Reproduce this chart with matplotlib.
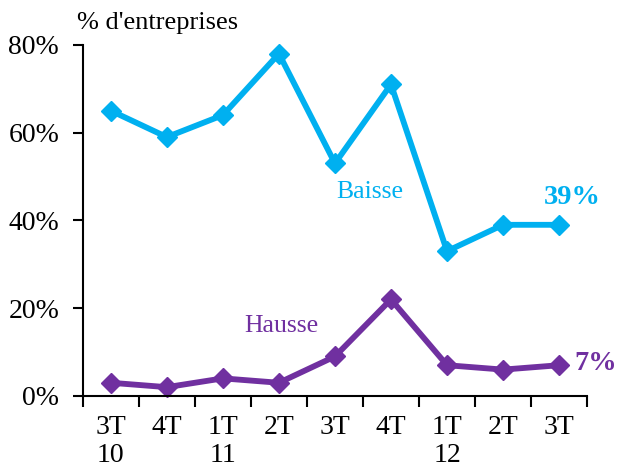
import numpy as np
import matplotlib.pyplot as plt
from matplotlib.ticker import FixedLocator, FuncFormatter

# data
quarters = ["3T\n10", "4T", "1T\n11", "2T", "3T", "4T", "1T\n12", "2T", "3T"]
baisse = [65, 59, 64, 78, 53, 71, 33, 39, 39]
hausse = [3, 2, 4, 3, 9, 22, 7, 6, 7]

blue = '#00B0F0'
purple = '#7030A0'

plt.rcParams['font.family'] = ['Liberation Serif', 'DejaVu Serif']

fig = plt.figure(figsize=(6.18, 4.68), dpi=100)
ax = fig.add_axes([0.134, 0.154, 0.816, 0.75])

x = np.arange(len(quarters))
ax.plot(x, baisse, color=blue, lw=4.2, marker='D', ms=10.5, clip_on=False)
ax.plot(x, hausse, color=purple, lw=4.2, marker='D', ms=10.5, clip_on=False)

ax.set_xlim(-0.5, len(quarters) - 0.5)
ax.set_ylim(0, 80)

# y axis
ax.set_yticks([0, 20, 40, 60, 80])
ax.yaxis.set_major_formatter(FuncFormatter(lambda v, p: '{:.0f}%'.format(v)))
ax.tick_params(axis='y', labelsize=20, length=7, width=1.5, direction='out', pad=10)

# x axis: labels at centres, tick marks at boundaries
ax.set_xticks(x)
ax.set_xticklabels(quarters, linespacing=1.15)
ax.xaxis.set_minor_locator(FixedLocator(np.arange(-0.5, len(quarters), 1.0)))
ax.tick_params(axis='x', which='major', length=0, labelsize=20, pad=14)
ax.tick_params(axis='x', which='minor', length=8, width=1.5, direction='out')
for lab in ax.get_xticklabels():
    lab.set_verticalalignment('top')

for s in ['top', 'right']:
    ax.spines[s].set_visible(False)
for s in ['left', 'bottom']:
    ax.spines[s].set_linewidth(1.5)

fig.text(0.125, 0.95, "% d'entreprises", fontsize=19, ha='left', va='center')

ax.text(4.63, 46.4, 'Baisse', color=blue, fontsize=18.5, ha='center', va='center')
ax.text(3.04, 16.0, 'Hausse', color=purple, fontsize=18.5, ha='center', va='center')
ax.text(8.23, 45.3, '39%', color=blue, fontsize=20.5, fontweight='bold', ha='center', va='center')
ax.text(8.65, 7.5, '7%', color=purple, fontsize=20.5, fontweight='bold', ha='center', va='center')

fig.savefig('out.png', dpi=100)
